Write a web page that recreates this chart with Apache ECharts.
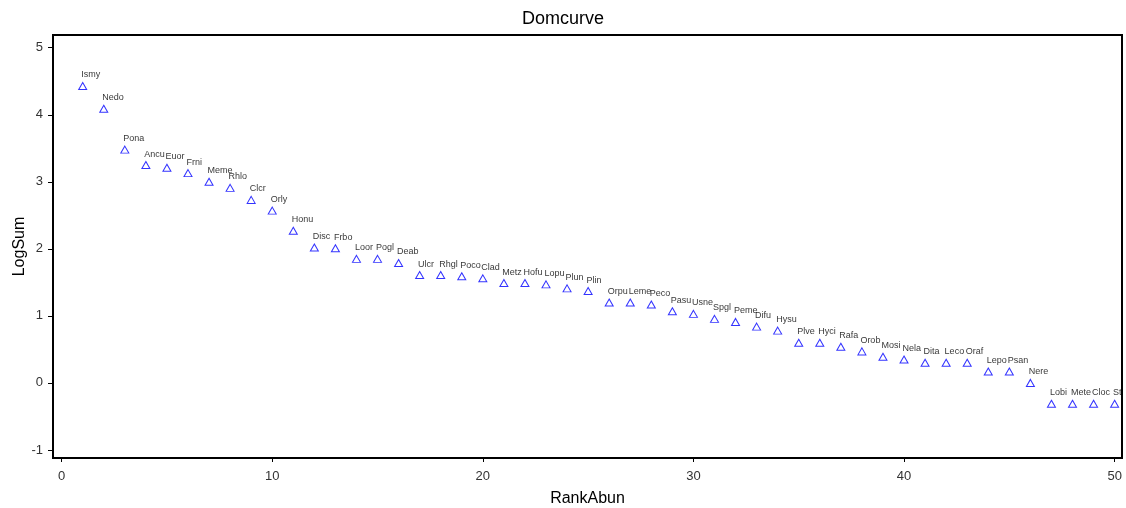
<!DOCTYPE html>
<html>
<head>
<meta charset="utf-8">
<script src="https://cdn.jsdelivr.net/npm/echarts@6/dist/echarts.min.js"></script>
<style>html,body{margin:0;padding:0;background:#fff;}#c{width:1126px;height:508px;}</style>
</head>
<body>
<div id="c"></div>
<script>
var names = ["Ismy","Nedo","Pona","Ancu","Euor","Frni","Meme","Rhlo","Clcr","Orly",
  "Honu","Disc","Frbo","Loor","Pogl","Deab","Ulcr","Rhgl","Poco","Clad",
  "Metz","Hofu","Lopu","Plun","Plin","Orpu","Leme","Peco","Pasu","Usne",
  "Spgl","Peme","Difu","Hysu","Plve","Hyci","Rafa","Orob","Mosi","Nela",
  "Dita","Leco","Oraf","Lepo","Psan","Nere","Lobi","Mete","Cloc","Stl"];
var rankAbun = [1,2,3,4,5,6,7,8,9,10,11,12,13,14,15,16,17,18,19,20,21,22,23,24,25,
  26,27,28,29,30,31,32,33,34,35,36,37,38,39,40,41,42,43,44,45,46,47,48,49,50];
var logSum = [4.43,4.09,3.48,3.25,3.21,3.13,3.00,2.91,2.73,2.57,
  2.27,2.02,2.01,1.85,1.85,1.79,1.61,1.61,1.59,1.56,
  1.49,1.49,1.47,1.41,1.37,1.20,1.20,1.17,1.07,1.03,
  0.955,0.91,0.84,0.78,0.60,0.60,0.54,0.47,0.39,0.35,
  0.30,0.30,0.30,0.17,0.17,0.00,-0.31,-0.31,-0.31,-0.31];
var xTicks = [0,10,20,30,40,50];
var yTicks = [-1,0,1,2,3,4,5];

var data = rankAbun.map(function(r,i){ return {value:[r, logSum[i]], name:names[i]}; });
var font = 'Arial, "Liberation Sans", sans-serif';
var chart = echarts.init(document.getElementById('c'), null, {renderer:'canvas'});
chart.setOption({
  animation:false,
  backgroundColor:'#fff',
  title:{text:'Domcurve', left:'center', top:5,
    textStyle:{fontFamily:font, fontSize:18, fontWeight:'normal', color:'#000'}},
  grid:{left:53, top:35, right:4, bottom:50, show:true, borderColor:'#000', borderWidth:2,
    backgroundColor:'#fff', containLabel:false, outerBoundsMode:'none'},
  xAxis:{type:'value', min:-0.41, max:50.35, name:'RankAbun', nameLocation:'middle', nameGap:33,
    nameMoveOverlap:false,
    nameTextStyle:{fontFamily:font, fontSize:16, color:'#000'},
    axisLine:{show:true, onZero:false, lineStyle:{color:'#000', width:2}},
    axisTick:{show:true, length:4, customValues:xTicks, lineStyle:{color:'#000'}},
    axisLabel:{customValues:xTicks, margin:12, fontFamily:font, fontSize:13, color:'#333'},
    splitLine:{show:false}},
  yAxis:{type:'value', min:-1.12, max:5.19, name:'LogSum', nameLocation:'middle', nameGap:25, nameRotate:90,
    nameMoveOverlap:false,
    nameTextStyle:{fontFamily:font, fontSize:16, color:'#000'},
    axisLine:{show:true, onZero:false, lineStyle:{color:'#000', width:2}},
    axisTick:{show:true, length:5, customValues:yTicks, lineStyle:{color:'#000'}},
    axisLabel:{customValues:yTicks, margin:10, fontFamily:font, fontSize:13, color:'#333'},
    splitLine:{show:false}},
  series:[{type:'scatter', data:data, symbol:'triangle', symbolSize:[8,7],
    itemStyle:{color:'rgba(0,0,0,0)', borderColor:'#0000ff', borderWidth:1},
    label:{show:true, formatter:'{b}', position:[3,-7], align:'left', verticalAlign:'middle',
      fontFamily:font, fontSize:9, color:'#000'}}]
});
</script>
</body>
</html>
